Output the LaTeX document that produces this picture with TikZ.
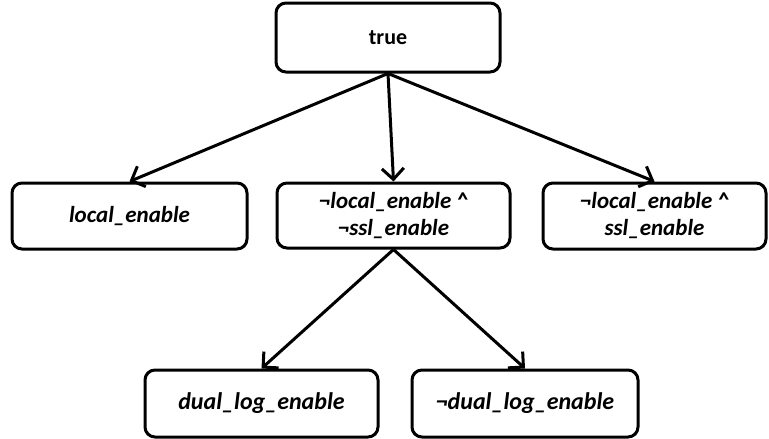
\documentclass[tikz,border=0pt]{standalone}
\usepackage{fontspec}
\setmainfont{Carlito}
\usetikzlibrary{arrows.meta}
\tikzset{
  box/.style={draw, line width=3pt, rounded corners=10pt, fill=white, inner sep=0pt, align=center},
  conn/.style={line width=3pt, -{Straight Barb[length=11pt,width=22pt,line width=3pt]}},
  lbl/.style={font=\fontsize{23}{27}\selectfont\bfseries\itshape},
  lblb/.style={font=\fontsize{24}{27}\selectfont\bfseries\itshape}
}
\begin{document}
\begin{tikzpicture}[x=1pt,y=-1pt]
\useasboundingbox (0,0) rectangle (769,439);
\node[box, minimum width=224pt, minimum height=69pt, font=\fontsize{22}{27}\selectfont\bfseries] (t) at (388,37.5) {true};
\node[box, lbl, minimum width=235pt, minimum height=66pt] (a) at (129.5,216) {local\_enable};
\node[box, lbl, minimum width=233pt, minimum height=65pt] (b) at (393.5,215.5) {¬local\_enable \string^\\¬ssl\_enable};
\node[box, lbl, minimum width=223pt, minimum height=66pt] (c) at (654.5,216) {¬local\_enable \string^\\ssl\_enable};
\node[box, lblb, minimum width=233pt, minimum height=67pt] (d) at (261.5,403.5) {dual\_log\_enable};
\node[box, lblb, minimum width=226pt, minimum height=67pt] (e) at (525,403.5) {¬dual\_log\_enable};
\draw[conn] (t.south) -- (a.north);
\draw[conn] (t.south) -- (b.north);
\draw[conn] (t.south) -- (c.north);
\draw[conn] (b.south) -- (d.north);
\draw[conn] (b.south) -- (e.north);
\end{tikzpicture}
\end{document}
